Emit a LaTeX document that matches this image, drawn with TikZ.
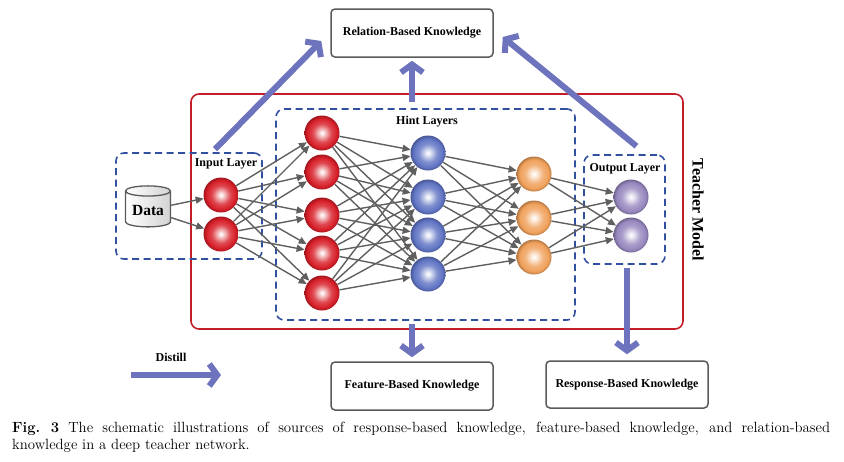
\documentclass[tikz,border=0pt]{standalone}
\usepackage{fontspec}
\newfontfamily\figfont{Liberation Serif}
\usetikzlibrary{arrows.meta,shapes.geometric,calc}

\definecolor{netgray}{RGB}{95,95,95}
\definecolor{hintblue}{RGB}{50,80,160}
\definecolor{teachred}{RGB}{195,30,40}
\definecolor{boxgray}{RGB}{90,90,90}
\definecolor{distblue}{RGB}{110,115,190}
\definecolor{nred}{RGB}{215,30,40}
\definecolor{nblue}{RGB}{95,115,195}
\definecolor{norange}{RGB}{240,160,90}
\definecolor{npurple}{RGB}{150,135,190}

\colorlet{nrncol}{nred}
\pgfdeclareradialshading[nrncol]{neuronball}{\pgfpoint{0bp}{0bp}}{%
  color(0bp)=(white); color(3bp)=(nrncol!15!white); color(13bp)=(nrncol!80!white);
  color(21bp)=(nrncol); color(25bp)=(nrncol!75!black); color(50bp)=(nrncol!75!black)}

\tikzset{
  neuron/.style={circle, minimum size=35pt, inner sep=0pt,
    /utils/exec={\colorlet{nrncol}{#1}}, shading=neuronball},
  link/.style={netgray, line width=1.4pt, -{Triangle[length=8pt,width=7pt]}},
  layerbox/.style={draw=hintblue, line width=1.6pt, dash pattern=on 7pt off 4.5pt,
    rounded corners=8pt, inner sep=0pt},
  knowbox/.style={draw=boxgray, line width=1.5pt, rounded corners=4pt,
    minimum width=162pt, minimum height=48pt,
    font=\figfont\bfseries\fontsize{12}{14}\selectfont},
  bigarrow/.style={distblue, line width=6pt, -{Straight Barb[length=8pt,width=22pt]}},
  lbl/.style={font=\figfont\bfseries\fontsize{12}{14}\selectfont, inner sep=0pt}
}

\begin{document}
\begin{tikzpicture}[x=1pt, y=-1pt]
  \useasboundingbox (0,0) rectangle (844,461);

  % teacher and layer frames
  \node[draw=teachred, line width=1.6pt, rounded corners=8pt, inner sep=0pt,
    minimum width=492pt, minimum height=235pt] (teacher) at (437,211.5) {};
  \node[layerbox, minimum width=146pt, minimum height=106pt] (inbox) at (189,206) {};
  \node[layerbox, minimum width=299pt, minimum height=211pt] (hint) at (425.5,214.5) {};
  \node[layerbox, minimum width=81pt, minimum height=109pt] (outbox) at (624.5,209.5) {};

  \node[lbl] (inlbl) at (226,164) {Input Layer};
  \node[lbl] (hintlbl) at (427,122) {Hint Layers};
  \node[lbl] (outlbl) at (625,169) {Output Layer};
  \node[lbl, font=\figfont\bfseries\fontsize{16}{18}\selectfont, rotate=-90] (tmodel) at (698,210) {Teacher Model};

  \node[cylinder, shape border rotate=90, aspect=0.3, draw=boxgray, line width=1.3pt,
    minimum width=45pt, minimum height=41pt, left color=white, right color=gray!35,
    inner sep=1pt, font=\figfont\bfseries\fontsize{15.5}{18}\selectfont] (data) at (148,210) {Data};

  % neurons
  \foreach \y [count=\n] in {195,234} \node[neuron=nred] (i\n) at (221,\y) {};
  \foreach \y [count=\n] in {133,172,215,253,293} \node[neuron=nred] (r\n) at (322,\y) {};
  \foreach \y [count=\n] in {153,197,235,274} \node[neuron=nblue] (b\n) at (428,\y) {};
  \foreach \y [count=\n] in {174,218,257} \node[neuron=norange] (g\n) at (534,\y) {};
  \foreach \y [count=\n] in {197,235} \node[neuron=npurple] (p\n) at (631,\y) {};

  % links
  \foreach \a in {1,2} \draw[link] (data) -- (i\a);
  \foreach \a in {1,2} \foreach \b in {1,...,5} \draw[link] (i\a) -- (r\b);
  \foreach \a in {1,...,5} \foreach \b in {1,...,4} \draw[link] (r\a) -- (b\b);
  \foreach \a in {1,...,4} \foreach \b in {1,2,3} \draw[link] (b\a) -- (g\b);
  \foreach \a in {1,2,3} \foreach \b in {1,2} \draw[link] (g\a) -- (p\b);

  % knowledge sources
  \node[knowbox] (relation) at (412,33) {Relation-Based Knowledge};
  \node[knowbox] (feature) at (412,386) {Feature-Based Knowledge};
  \node[knowbox, minimum height=47pt] (response) at (627,384.5) {Response-Based Knowledge};

  \draw[bigarrow] ($(inbox.north)+(26,-3)$) -- ($(relation.west)+(-9,8)$);
  \draw[bigarrow] ($(relation.south |- hint.north)+(0,-6)$) -- ($(relation.south)+(0,3)$);
  \draw[bigarrow] ($(outbox.north)+(12,-8)$) -- ($(relation.east)+(9,4)$);
  \draw[bigarrow] ($(feature.north |- hint.south)+(0,3)$) -- ($(feature.north)+(0,-4)$);
  \draw[bigarrow] ($(response.north |- outbox.south)+(0,3)$) -- ($(response.north)+(0,-6)$);

  \node[lbl] (distill) at (171,357) {Distill};
  \coordinate (d0) at (131,375);
  \coordinate (d1) at (221,375);
  \draw[bigarrow] (d0) -- (d1);

  \node[anchor=north west, text width=818pt, align=justify, inner sep=0pt,
    font=\fontsize{14.8}{17}\selectfont] (caption) at (12,422)
    {\textbf{Fig.~3} The schematic illustrations of sources of response-based knowledge, feature-based knowledge, and relation-based\linebreak knowledge in a deep teacher network.};
\end{tikzpicture}
\end{document}
